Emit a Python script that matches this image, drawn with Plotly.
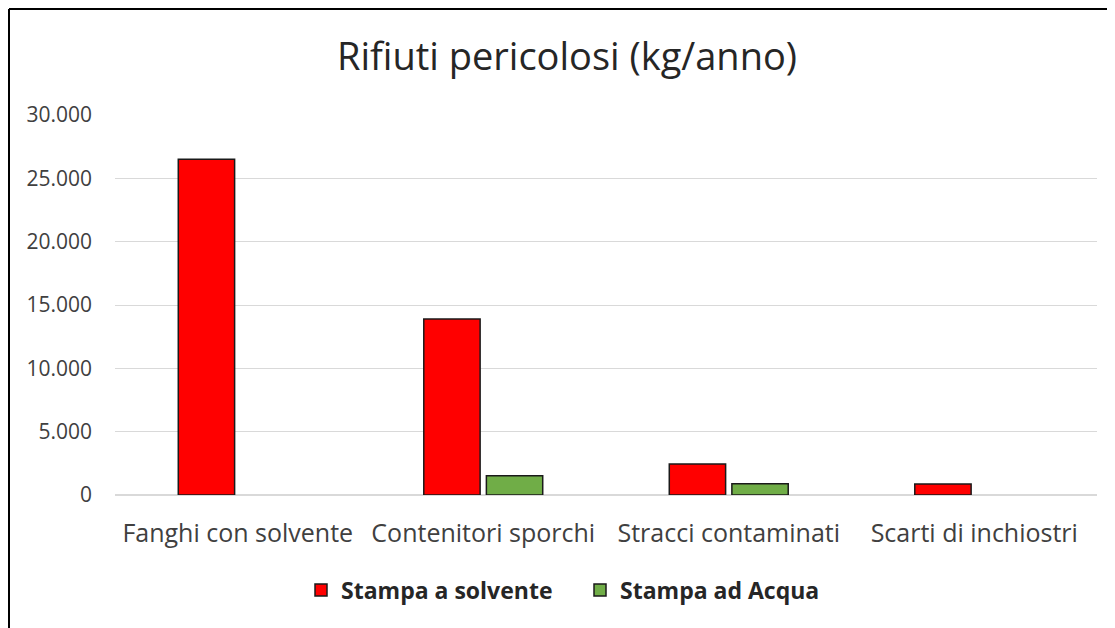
import plotly.graph_objects as go

categories = ["Fanghi con solvente", "Contenitori sporchi", "Stracci contaminati", "Scarti di inchiostri"]
solvente = [26500, 13900, 2450, 870]
acqua = [None, 1520, 880, None]
series_names = ["Stampa a solvente", "Stampa ad Acqua"]
y_ticks = [0, 5000, 10000, 15000, 20000, 25000, 30000]

fig = go.Figure()
fig.add_trace(go.Bar(x=categories, y=solvente, name=series_names[0],
                     marker=dict(color="#ff0000", line=dict(color="#1a1a1a", width=1.5))))
fig.add_trace(go.Bar(x=categories, y=acqua, name=series_names[1],
                     marker=dict(color="#70ad47", line=dict(color="#1a1a1a", width=1.5))))

font_family = "Open Sans, Liberation Sans, sans-serif"
# page body has an 8px offset; margins compensate so the plot area sits at x 115-1097, y 115-495
fig.update_layout(
    width=1115, height=628,
    margin=dict(l=107, r=26, t=107, b=141),
    paper_bgcolor="white", plot_bgcolor="white",
    separators=",.",
    barmode="group", bargap=0.49, bargroupgap=0.1,
    title=dict(text="Rifiuti pericolosi (kg/anno)", x=(567 - 8) / 1115, xanchor="center",
               y=1 - (57 - 8) / 628, yanchor="middle",
               font=dict(family=font_family, size=38, color="#262626")),
    legend=dict(orientation="h", x=(580 - 115) / 982, xanchor="center",
                y=(495 - 590) / 380, yanchor="middle",
                font=dict(family=font_family, size=23, color="#262626", weight="bold"),
                traceorder="normal", itemwidth=30, entrywidth=234),
    showlegend=True,
)
fig.update_yaxes(range=[0, 30000], tickvals=y_ticks, tickformat=",",
                 showgrid=True, gridcolor="#d9d9d9", gridwidth=1,
                 zeroline=True, zerolinecolor="#d9d9d9", zerolinewidth=1.5,
                 showline=False, ticklabelstandoff=22,
                 tickfont=dict(family=font_family, size=21, color="#404040"))
fig.update_xaxes(showgrid=False, showline=False, ticklabelstandoff=21,
                 tickfont=dict(family=font_family, size=25, color="#404040"))

# chart frame (left and top edges visible)
fx = (9 - 115) / 982
fy = (495 - 9) / 380
fig.add_shape(type="line", xref="paper", yref="paper", x0=fx, x1=fx, y0=-0.5, y1=fy,
              line=dict(color="black", width=2))
fig.add_shape(type="line", xref="paper", yref="paper", x0=fx, x1=1.1, y0=fy, y1=fy,
              line=dict(color="black", width=2))

fig.write_html("out.html")
